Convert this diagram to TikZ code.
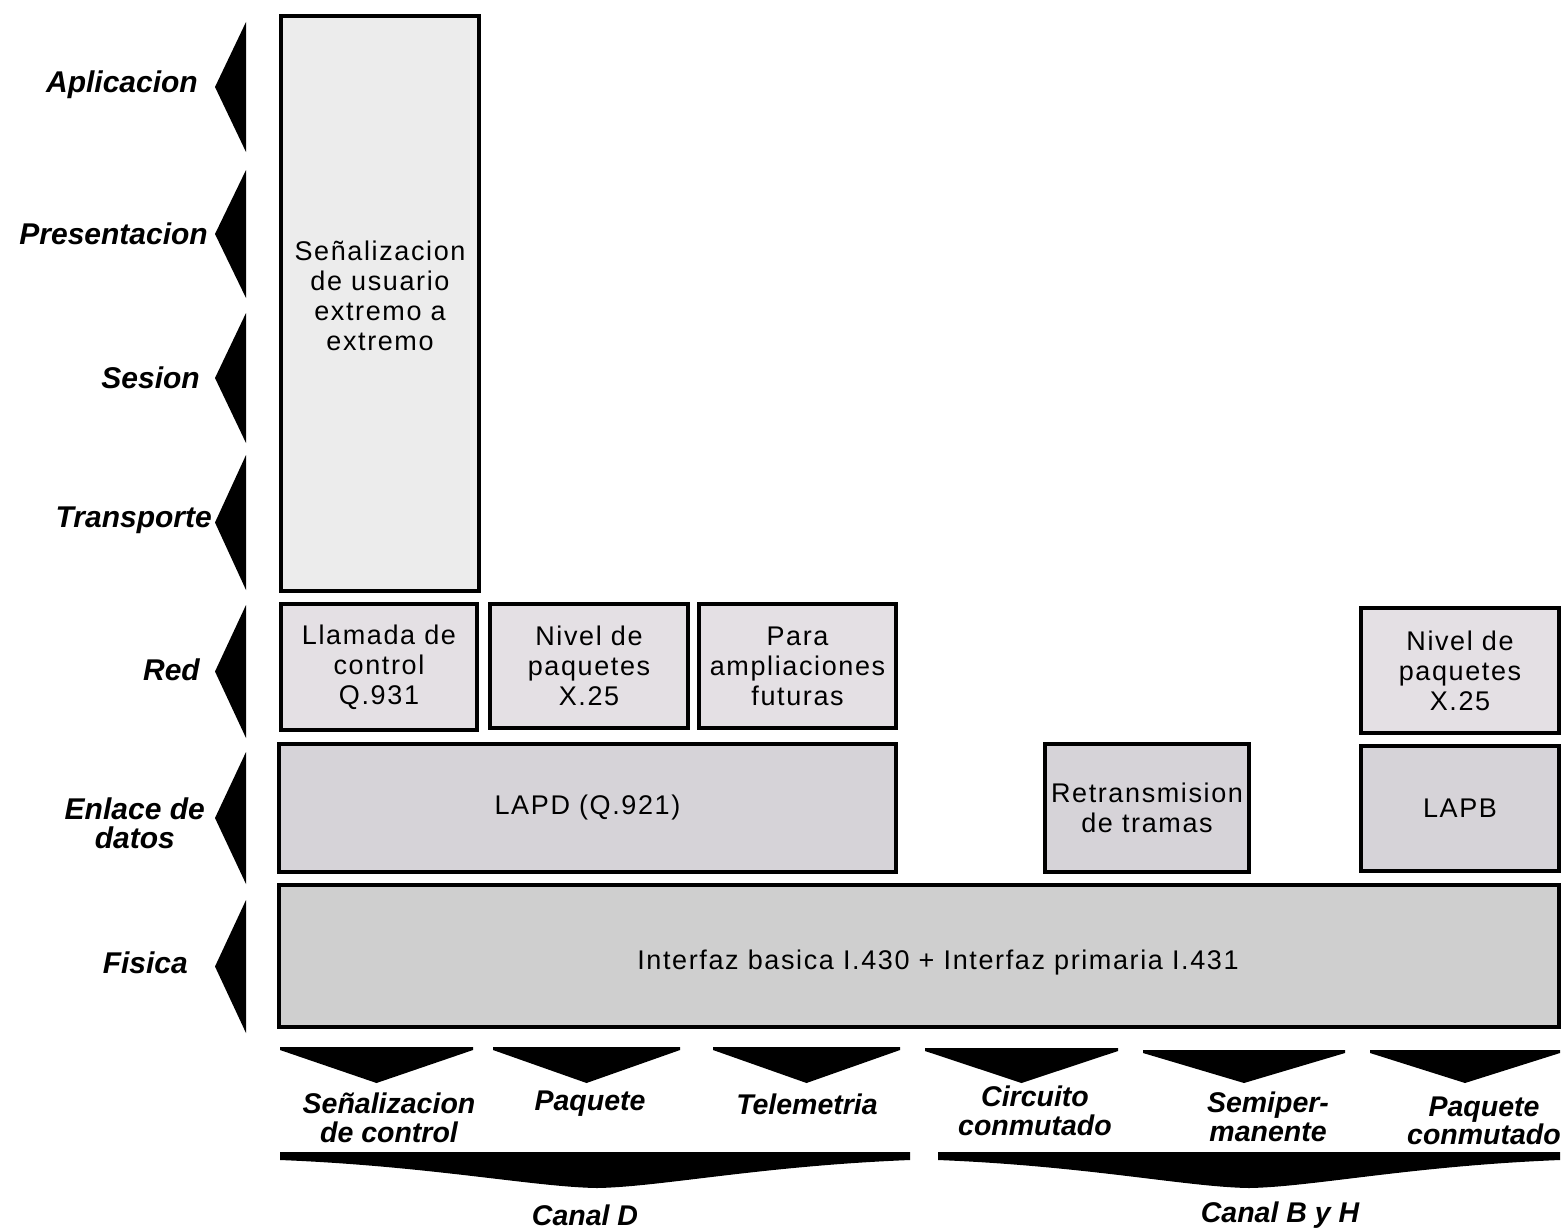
\documentclass[tikz,border=0pt]{standalone}
\usepackage{fontspec}
\setmainfont{Liberation Sans}
\newfontfamily\boxfnt[LetterSpace=6]{Liberation Sans}
\definecolor{fillA}{HTML}{ECECEC}
\definecolor{fillB}{HTML}{E4E0E4}
\definecolor{fillC}{HTML}{D6D3D8}
\definecolor{fillD}{HTML}{CFCFCF}
\begin{document}
\begin{tikzpicture}[x=1pt,y=-1pt,
  layerbox/.style={draw=black, line width=4pt, inner sep=0pt, align=center,
    font=\boxfnt\fontsize{27}{30}\selectfont},
  sidelabel/.style={anchor=east, inner sep=0pt, align=center,
    font=\fontsize{30}{29}\selectfont\bfseries\itshape},
  chanlabel/.style={inner sep=0pt, align=center,
    font=\fontsize{28.5}{28.5}\selectfont\bfseries\itshape},
  pointer/.style={fill=black, draw=none}
]
\useasboundingbox (0,0) rectangle (1565,1231);

% ---- boxes ----
\node[layerbox, fill=fillA, minimum width=198, minimum height=575] (usr) at (380,303.5) {};
\node at (380,296) [align=center, font=\boxfnt\fontsize{27}{30}\selectfont] (usrtxt) {Señalizacion\\de usuario\\extremo a\\extremo};

\node[layerbox, fill=fillB, minimum width=196, minimum height=126] (q931) at (379,667) {Llamada de\\control\\Q.931};
\node[layerbox, fill=fillB, minimum width=198, minimum height=124] (x25a) at (589,666) {Nivel de\\paquetes\\X.25};
\node[layerbox, fill=fillB, minimum width=197, minimum height=124] (fut) at (797.5,666) {Para\\ampliaciones\\futuras};
\node[layerbox, fill=fillB, minimum width=198, minimum height=125] (x25b) at (1460,670.5) {Nivel de\\paquetes\\X.25};

\node[layerbox, fill=fillC, minimum width=617, minimum height=128] (lapd) at (587.5,808) {LAPD (Q.921)};
\node[layerbox, fill=fillC, minimum width=204, minimum height=128] (frm) at (1147,808) {Retransmision\\de tramas};
\node[layerbox, fill=fillC, minimum width=198, minimum height=125] (lapb) at (1460,808.5) {LAPB};

\node[layerbox, fill=fillD, minimum width=1280, minimum height=142] (phy) at (919,956) {};
\node at (938,963) [font=\boxfnt\fontsize{27}{30}\selectfont] (phytxt) {Interfaz basica I.430 + Interfaz primaria I.431};

% ---- left OSI labels ----
\node[sidelabel] (l7) at (198,85) {Aplicacion};
\node[sidelabel] (l6) at (208,234) {Presentacion};
\node[sidelabel] (l5) at (200,378) {Sesion};
\node[sidelabel] (l4) at (212,520) {Transporte};
\node[sidelabel] (l3) at (200,670) {Red};
\node[sidelabel] (l2) at (205,823) {Enlace de\\datos};
\node[sidelabel] (l1) at (188,963) {Fisica};

% ---- left pointers ----
\foreach \a/\b in {22/152,170/298,313/443,455/590,605/738,752/884,900/1033}{
  \fill[pointer] (246,\a) -- (246,\b) -- (215,{(\a+\b)/2}) -- cycle;
}

% ---- bottom small pointers ----
\foreach \a/\b/\y in {280/473/1047,493/680/1047,713/900/1047,925/1118/1048,1143/1345/1050,1370/1560/1050}{
  \fill[pointer] (\a,\y) -- (\b,\y) -- (\b,\y+3) -- ({(\a+\b)/2},1083) -- (\a,\y+3) -- cycle;
}

% ---- channel labels ----
\node[chanlabel] (c1) at (389,1118) {Señalizacion\\de control};
\node[chanlabel] (c2) at (590,1104) {Paquete};
\node[chanlabel] (c3) at (807,1104) {Telemetria};
\node[chanlabel] (c4) at (1035,1111) {Circuito\\conmutado};
\node[chanlabel] (c5) at (1268,1117) {Semiper-\\manente};
\node[chanlabel] (c6) at (1484,1121) {Paquete\\conmutado};

% ---- big braces ----
\fill[pointer] (280,1152) -- (910,1152) -- (910,1160)
  .. controls (760,1166) and (660,1187) .. (597,1188)
  .. controls (534,1187) and (430,1166) .. (280,1160) -- cycle;
\fill[pointer] (938,1152) -- (1560,1152) -- (1560,1160)
  .. controls (1410,1166) and (1312,1187) .. (1249,1188)
  .. controls (1186,1187) and (1088,1166) .. (938,1160) -- cycle;

\node[chanlabel] (cd) at (585,1215) {Canal D};
\node[chanlabel] (cbh) at (1280,1215) {Canal B y H};
\end{tikzpicture}
\end{document}
